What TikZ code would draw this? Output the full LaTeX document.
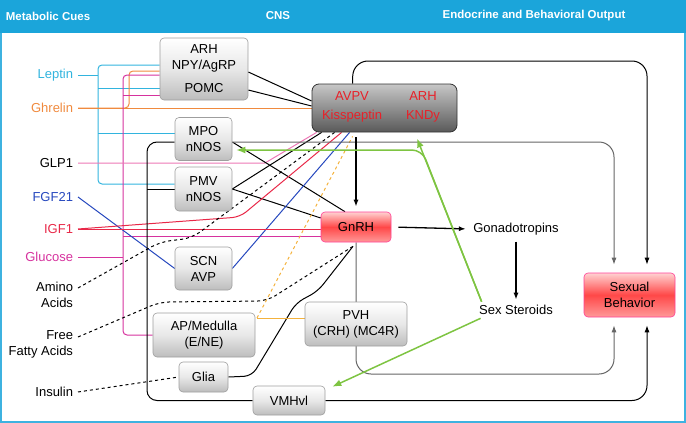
\documentclass[tikz,border=0pt]{standalone}
\usepackage{fontspec}
\setmainfont{Liberation Sans}
\usetikzlibrary{arrows.meta,calc,backgrounds}

\definecolor{headblue}{RGB}{27,165,218}
\definecolor{leptincol}{RGB}{50,180,222}
\definecolor{ghrelincol}{RGB}{240,138,62}
\definecolor{glpcol}{RGB}{236,120,182}
\definecolor{fgfcol}{RGB}{38,72,190}
\definecolor{igfcol}{RGB}{232,40,72}
\definecolor{glucol}{RGB}{214,50,158}
\definecolor{apcol}{RGB}{244,178,60}
\definecolor{steroidcol}{RGB}{126,196,66}
\definecolor{kisscol}{RGB}{232,32,40}

\tikzset{
  cnsbox/.style={draw=black!38, rounded corners=4pt, top color=white, bottom color=black!26, middle color=black!9, align=center, inner sep=2pt, line width=0.6pt},
  kissbox/.style={draw=black!80, rounded corners=7pt, top color=black!22, bottom color=black!65, line width=0.8pt},
  outbox/.style={draw=red!55!magenta!75, rounded corners=4pt, top color=red!18, bottom color=red!40, middle color=red!72, align=center, line width=0.6pt},
  cue/.style={anchor=east, align=right, inner sep=0pt, outer sep=5pt},
  head/.style={text=white, font=\bfseries\fontsize{11.5}{13}\selectfont},
  feed/.style={line width=1pt},
  signal/.style={line width=1.3pt, -{Latex[length=7pt,width=5pt]}},
  steroid/.style={steroidcol, line width=1.5pt, -{Latex[length=9pt,width=7pt]}},
}

\begin{document}
\begin{tikzpicture}[x=1pt, y=-1pt, font=\fontsize{13}{16}\selectfont]
    \useasboundingbox (0,0) rectangle (686,423);
    \draw[headblue!85, line width=2pt] (1,1) rectangle (685,422);
    \fill[headblue] (0,0) rectangle (686,33);

    \node[head] (metab) at (48,16) {Metabolic Cues};
    \node[head] (cns)   at (278,16) {CNS};
    \node[head] (endo)  at (534,16) {Endocrine and Behavioral Output};

    \node[cue, text=leptincol]  (leptin)  at (78,75)  {Leptin};
    \node[cue, text=ghrelincol] (ghrelin) at (78,108) {Ghrelin};
    \node[cue]                  (glp)     at (78,163) {GLP1};
    \node[cue, text=fgfcol]     (fgf)     at (78,197) {FGF21};
    \node[cue, text=igfcol]     (igf)     at (78,229) {IGF1};
    \node[cue, text=glucol]     (glucose) at (78,257) {Glucose};
    \node[cue]                  (amino)   at (78,295) {Amino\\Acids};
    \node[cue]                  (ffa)     at (78,344) {Free\\Fatty Acids};
    \node[cue]                  (insulin) at (78,392) {Insulin};

    \node[cnsbox, minimum width=88pt,  minimum height=62pt] (arh)  at (204,69)    {ARH\\NPY/AgRP\\[7pt]POMC};
    \node[cnsbox, minimum width=57pt,  minimum height=43pt] (mpo)  at (203.5,139) {MPO\\nNOS};
    \node[cnsbox, minimum width=57pt,  minimum height=44pt] (pmv)  at (203.5,189) {PMV\\nNOS};
    \node[cnsbox, minimum width=57pt,  minimum height=43pt] (scn)  at (203.5,268.5) {SCN\\AVP};
    \node[cnsbox, minimum width=102pt, minimum height=44pt] (ap)   at (204,335)   {AP/Medulla\\(E/NE)};
    \node[cnsbox, minimum width=49pt,  minimum height=30pt] (glia) at (203.5,377) {Glia};
    \node[cnsbox, minimum width=72pt,  minimum height=29pt] (vmh)  at (289,400.5) {VMHvl};
    \node[cnsbox, minimum width=102pt, minimum height=44pt] (pvh)  at (356,324)   {PVH\\(CRH) (MC4R)};
    \node[kissbox, minimum width=145pt, minimum height=48pt] (avpv) at (384.5,108) {};
    \node[text=kisscol, align=center] (kiss) at (352,107) {AVPV\\[3pt]Kisspeptin};
    \node[text=kisscol, align=center] (kndy) at (423,107) {ARH\\[3pt]KNDy};
    \node[outbox, minimum width=70pt, minimum height=30pt] (gnrh)   at (356,227)   {GnRH};
    \node                                                  (gonad)  at (516,229)   {Gonadotropins};
    \node                                                  (sexst)  at (516,310)   {Sex Steroids};
    \node[outbox, minimum width=91pt, minimum height=44pt] (sexbeh) at (629.5,295) {Sexual\\Behavior};

    \coordinate (cyA) at (98,65);
    \coordinate (cyB) at (98,184);
    \coordinate (cyC) at (98,88);
    \coordinate (cyD) at (98,133);
    \coordinate (ogA) at (129,71);
    \coordinate (mgA) at (123,75);
    \coordinate (mgB) at (123,335);
    \coordinate (mgC) at (123,95);
    \coordinate (mgD) at (123,236);
    \coordinate (glpA) at (265,163);
    \coordinate (igfA) at (240,217);
    \coordinate (amA) at (160,242);
    \coordinate (amB) at (192,238);
    \coordinate (ffA) at (160,302);
    \coordinate (ffB) at (267,301);
    \coordinate (glA) at (252,376);
    \coordinate (glB) at (296,303);
    \coordinate (glC) at (318,291);
    \coordinate (apA) at (257,318);
    \coordinate (railT) at (147,142);
    \coordinate (avtop) at (353,61);
    \coordinate (pvhloop) at (356,374);
    \coordinate (grA) at (422,150);

    \begin{scope}[on background layer]
        \draw[feed, leptincol, rounded corners=4pt] (arh.west |- cyA) -- (cyA) -- (cyB) -- (pmv.west |- cyB);
        \draw[feed, leptincol] (leptin.east) -- (leptin.east -| cyA);
        \draw[feed, leptincol] (cyC) -- (arh.west |- cyC);
        \draw[feed, leptincol] (cyD) -- (mpo.west |- cyD);
        \draw[feed, ghrelincol] (ghrelin.east) -- (avpv.west |- ghrelin.east);
        \draw[feed, ghrelincol, rounded corners=4pt] (ghrelin.east) -| (ogA) -- (arh.west |- ogA);
        \draw[feed, glucol, rounded corners=4pt] (arh.west |- mgA) -- (mgA) -- (mgB) -- (ap.west);
        \draw[feed, glucol] (mgC) -- (arh.west |- mgC);
        \draw[feed, glucol] (glucose.east) -- (glucose.east -| mgA);
        \draw[feed, glucol] (mgD) -- (gnrh.west |- mgD);
        \draw[feed, glpcol] (glp.east) -- (glpA) -- ($(avpv.south west)+(5,0)$);
        \draw[feed] ($(arh.east)+(0,3)$) -- ($(avpv.west)+(0,-7)$);
        \draw[feed] ($(arh.east)+(0,21)$) -- ($(avpv.west)+(0,-2)$);
        \draw[feed] ($(mpo.east)+(0,3)$) -- ($(gnrh.north)+(-11,0)$);
        \draw[feed] (pmv.east) -- ($(avpv.south west)+(10,0)$);
        \draw[feed] (pmv.east) -- ($(gnrh.west)+(0,-9)$);
        \draw[feed, fgfcol] (fgf.east) -- (scn.west);
        \draw[feed, fgfcol] (scn.east) -- ($(avpv.south west)+(38,0)$);
        \draw[feed, igfcol] (igf.east) -- (gnrh.west |- igf.east);
        \draw[feed, igfcol, rounded corners=8pt] (igf.east) -- (igfA) -- ($(avpv.south west)+(30,0)$);
        \draw[feed, dashed, rounded corners=10pt] ($(amino.east)+(0,-7)$) -- (amA) -- (amB) -- ($(avpv.south west)+(23,0)$);
        \draw[feed, dashed, rounded corners=10pt] ($(ffa.east)+(0,-7)$) -- (ffA) -- (ffB) -- ($(gnrh.south)+(-3,4)$);
        \draw[feed, rounded corners=8pt] (glia.east) -- (glA) -- (glB) -- (glC) -- ($(gnrh.south)+(-3,4)$);
        \draw[feed, dashed] (insulin.east) -- (glia.west);
        \draw[feed, apcol] (apA) -- (pvh.west |- apA);
        \draw[feed, apcol, dashed] (apA) -- ($(avpv.south west)+(41,4)$);

        \draw[feed, rounded corners=10pt] (vmh.west) -| (railT) -- (mpo.west |- railT);
        \draw[feed] (pmv.west) -- (pmv.west -| railT);
        \draw[feed, black!60, rounded corners=15pt, -{Latex[length=7pt,width=5pt]}] (mpo.east |- railT) -| ($(sexbeh.north)+(-15.5,-8)$);
        \draw[feed, rounded corners=15pt, -{Latex[length=7pt,width=5pt]}] ($(avpv.north west)+(41,0)$) -- (avtop) -| ($(sexbeh.north)+(17.5,-8)$);
        \draw[feed, black!60, rounded corners=15pt, -{Latex[length=7pt,width=5pt]}] (gnrh.south) -- (pvhloop) -| ($(sexbeh.south)+(-15.5,8)$);
        \draw[feed, rounded corners=15pt, -{Latex[length=7pt,width=5pt]}] (vmh.east) -| ($(sexbeh.south)+(17.5,8)$);

        \draw[signal, shorten <=5pt, shorten >=5pt] (avpv.south -| gnrh.north) -- (gnrh.north);
        \draw[signal, shorten <=7pt, shorten >=4pt] (gnrh.east) -- (gonad.west);
        \draw[signal, shorten <=3pt, shorten >=2pt] (gonad.south) -- (sexst.north);

        \draw[steroid] ($(sexst.north west)+(6,0)$) -- ($(avpv.south)+(32.5,6)$);
        \draw[steroid, rounded corners=10pt, shorten >=4pt] ($(sexst.north west)+(6,0)$) -- (grA) -- (mpo.east |- grA);
        \draw[steroid] ($(sexst.south west)+(5,0)$) -- ($(vmh.north east)+(7,1)$);
    \end{scope}
\end{tikzpicture}
\end{document}
